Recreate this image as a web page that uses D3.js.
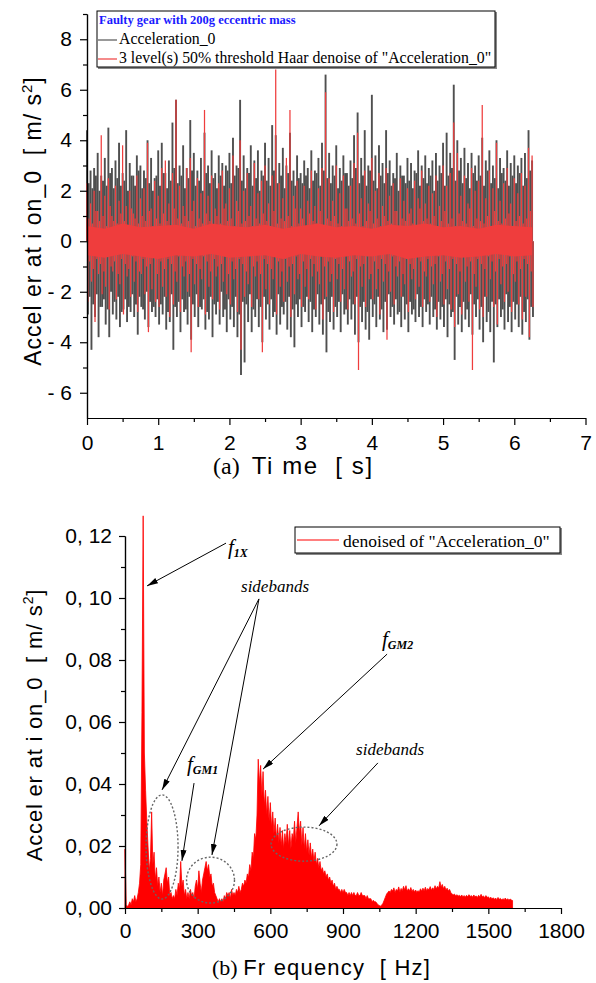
<!DOCTYPE html>
<html>
<head>
<meta charset="utf-8"/>
<title>Faulty gear: time signal and spectrum</title>
<script src="https://d3js.org/d3.v7.min.js"></script>
<style>
  body { margin: 0; background: #fff; }
  svg text { font-family: "Liberation Sans", Arial, sans-serif; fill: #000; }
  .serif { font-family: "Liberation Serif", "Times New Roman", serif !important; }
  .axis path, .axis line { stroke: #000; stroke-width: 1.2; }
  .axis text { font-size: 21px; }
  .ellipse { fill: none; stroke: #666; stroke-width: 1.4; stroke-dasharray: 2 2; }
  .arrow { stroke: #000; stroke-width: 1; fill: none; }
</style>
</head>
<body>
<div id="chart"></div>
<script>
// ---- panel (a): time signal, max / min in each 0.025 s slot ----
var timeStep = 0.025;
var greyHi = [4.4, 2.3, 2.8, 2.1, 2.9, 2.6, 3.5, 2.0, 2.6, 2.4, 3.3, 2.2, 4.5, 2.7, 2.9, 2.1, 3.2, 2.5, 3.9, 2.2,
              2.7, 2.4, 4.4, 2.0, 3.1, 2.6, 2.6, 2.2, 3.4, 2.8, 3.0, 2.1, 2.8, 2.5, 4.0, 2.3, 3.3, 2.0, 2.5, 2.6,
              3.6, 2.2, 3.9, 2.7, 2.7, 2.1, 3.2, 2.4, 4.7, 2.9, 5.6, 2.3, 3.0, 2.6, 3.8, 2.1, 2.9, 2.5, 4.8, 2.8,
              3.5, 2.2, 2.8, 2.4, 3.3, 2.0, 4.3, 2.7, 3.0, 2.3, 3.6, 2.5, 2.7, 2.1, 3.4, 2.6, 3.1, 2.2, 3.0, 2.8,
              3.5, 2.3, 4.1, 2.6, 3.0, 2.9, 5.6, 2.4, 3.4, 2.1, 2.9, 2.7, 3.8, 2.2, 3.2, 2.5, 3.6, 2.0, 2.8, 2.6,
              3.9, 2.4, 3.3, 2.2, 4.6, 2.8, 4.2, 2.3, 3.1, 2.6, 3.7, 2.1, 3.0, 2.7, 4.3, 2.4, 2.8, 2.2, 3.4, 2.5,
              2.7, 2.3, 3.2, 2.6, 2.9, 2.1, 3.6, 2.4, 2.8, 2.7, 3.3, 2.2, 3.9, 2.8, 6.6, 2.5, 3.5, 2.3, 3.0, 2.6,
              3.8, 2.1, 2.9, 2.4, 3.4, 2.7, 2.7, 2.2, 3.2, 2.5, 4.2, 2.9, 5.1, 2.3, 3.3, 2.6, 4.4, 2.2, 3.0, 2.8,
              5.8, 2.4, 3.4, 2.1, 3.8, 2.6, 3.1, 2.3, 4.4, 2.7, 3.2, 2.2, 2.7, 2.5, 3.5, 2.0, 3.0, 2.6, 2.6, 2.3,
              3.3, 2.4, 3.1, 2.1, 2.8, 2.7, 3.6, 2.2, 3.0, 2.5, 3.4, 2.3, 2.9, 2.6, 3.2, 2.0, 3.5, 2.4, 3.0, 2.7,
              3.9, 2.2, 4.3, 2.6, 3.5, 2.9, 6.2, 2.4, 4.0, 2.8, 3.3, 2.3, 3.7, 2.5, 3.1, 2.1, 3.5, 2.7, 3.0, 2.4,
              3.4, 2.6, 4.1, 2.2, 3.2, 2.8, 3.6, 2.3, 3.0, 2.5, 4.0, 2.1, 3.3, 2.7, 2.9, 2.4, 3.6, 2.2, 3.1, 2.6,
              3.4, 2.3, 3.0, 2.7, 3.3, 2.2, 3.5, 2.5, 4.4, 2.8, 3.2];
var greyLo = [-2.9, -2.2, -4.3, -2.5, -3.0, -2.1, -3.8, -2.6, -2.6, -2.3, -3.3, -2.7, -3.8, -2.0, -2.9, -2.4, -3.1, -2.2, -3.4, -2.8,
              -2.7, -2.3, -3.2, -2.6, -2.8, -2.1, -3.0, -2.5, -3.7, -2.2, -2.6, -2.7, -3.1, -2.0, -3.4, -2.4, -2.8, -2.6, -3.0, -2.3,
              -3.3, -2.5, -2.9, -2.2, -3.5, -2.8, -3.2, -2.1, -4.3, -2.6, -3.0, -2.4, -3.6, -2.3, -2.8, -2.7, -3.3, -2.2, -3.9, -2.5,
              -3.0, -2.1, -3.4, -2.6, -2.7, -2.3, -3.5, -2.8, -3.1, -2.2, -3.8, -2.5, -2.9, -2.4, -3.3, -2.0, -3.0, -2.7, -3.6, -2.3,
              -3.1, -2.6, -3.4, -2.2, -3.8, -2.9, -5.3, -2.4, -4.8, -2.5, -3.2, -2.1, -3.6, -2.7, -3.0, -2.3, -3.4, -2.6, -4.0, -2.2,
              -3.1, -2.5, -3.5, -2.3, -3.0, -2.8, -3.7, -2.1, -3.3, -2.6, -2.9, -2.4, -3.5, -2.2, -3.8, -2.7, -4.2, -2.5, -3.0, -2.3,
              -3.4, -2.6, -2.8, -2.2, -3.2, -2.4, -3.6, -2.7, -3.0, -2.1, -3.3, -2.5, -3.7, -2.3, -4.4, -2.8, -3.2, -2.2, -3.5, -2.6,
              -3.0, -2.4, -3.6, -2.1, -2.9, -2.7, -3.3, -2.3, -3.1, -2.5, -3.7, -2.2, -4.0, -2.6, -3.2, -2.4, -3.5, -2.8, -3.9, -2.3,
              -3.0, -2.5, -3.4, -2.2, -3.1, -2.7, -3.6, -2.4, -3.5, -2.1, -3.0, -2.6, -3.3, -2.3, -2.9, -2.8, -3.4, -2.2, -3.1, -2.5,
              -3.6, -2.4, -2.9, -2.7, -3.2, -2.1, -3.0, -2.6, -3.4, -2.3, -2.8, -2.5, -3.3, -2.2, -3.0, -2.7, -3.5, -2.4, -3.1, -2.6,
              -3.4, -2.3, -3.8, -2.5, -3.0, -2.8, -4.7, -2.2, -3.3, -2.6, -3.6, -2.4, -3.1, -2.7, -3.4, -2.1, -3.7, -2.5, -3.0, -2.3,
              -3.5, -2.6, -4.0, -2.2, -3.2, -2.8, -3.6, -2.4, -4.8, -2.5, -3.4, -2.3, -3.0, -2.7, -3.5, -2.1, -3.2, -2.6, -3.6, -2.4,
              -3.1, -2.5, -3.4, -2.2, -3.7, -2.8, -3.2, -2.3, -3.9, -2.6, -3.0];
var redHi = [2.3, 0.9, 1.5, 0.7, 2.0, 1.2, 1.2, 0.8, 4.2, 1.0, 1.8, 0.6, 2.5, 1.4, 1.0, 0.8, 2.2, 0.7, 1.6, 1.1,
             3.8, 0.8, 1.4, 0.6, 2.0, 1.3, 1.1, 0.9, 2.6, 0.7, 1.7, 1.0, 2.1, 0.8, 3.9, 1.2, 1.3, 0.6, 2.4, 0.9,
             1.8, 0.7, 2.9, 1.1, 3.2, 0.8, 1.5, 0.6, 2.7, 1.3, 5.6, 0.9, 2.2, 0.7, 1.4, 1.0, 2.9, 0.8, 3.3, 1.2,
             1.6, 0.6, 2.5, 0.9, 1.9, 0.7, 5.2, 1.1, 1.8, 0.8, 2.6, 0.6, 1.3, 1.0, 2.3, 0.7, 2.8, 1.3, 1.5, 0.8,
             2.1, 0.9, 3.4, 0.6, 1.6, 1.2, 4.0, 0.7, 2.0, 0.8, 2.7, 1.0, 1.4, 0.6, 3.1, 0.9, 1.9, 0.7, 2.4, 1.1,
             3.0, 0.8, 1.5, 0.6, 2.6, 1.2, 6.8, 0.7, 2.3, 0.9, 1.7, 0.8, 3.3, 1.0, 5.2, 0.6, 1.8, 1.3, 2.4, 0.7,
             1.3, 0.9, 2.2, 0.6, 1.6, 1.1, 2.8, 0.8, 1.4, 0.7, 2.1, 1.2, 2.9, 0.6, 5.9, 0.9, 2.5, 0.8, 1.6, 1.0,
             3.0, 0.7, 1.9, 0.6, 2.6, 1.3, 1.3, 0.8, 2.2, 0.9, 3.1, 0.7, 4.3, 1.1, 1.7, 0.6, 2.8, 0.8, 1.5, 1.2,
             3.3, 0.7, 2.0, 0.9, 2.7, 0.6, 1.4, 1.0, 2.9, 0.8, 1.8, 0.7, 2.3, 1.2, 1.2, 0.6, 2.5, 0.9, 1.6, 0.8,
             2.1, 1.1, 1.3, 0.7, 2.4, 0.6, 1.7, 1.3, 2.8, 0.8, 1.5, 0.9, 2.2, 0.7, 1.9, 1.0, 2.6, 0.6, 1.4, 0.8,
             3.0, 1.2, 2.2, 0.7, 2.7, 0.9, 4.7, 0.6, 3.5, 1.1, 1.8, 0.8, 2.6, 0.7, 1.5, 1.3, 2.9, 0.6, 2.0, 0.9,
             2.4, 0.8, 5.4, 0.7, 1.7, 1.0, 2.8, 0.6, 2.1, 1.2, 3.9, 0.8, 1.6, 0.7, 2.3, 0.9, 2.9, 1.1, 1.5, 0.6,
             2.5, 0.8, 1.9, 1.0, 2.7, 0.7, 2.2, 0.9, 3.7, 1.2, 3.4];
var redLo = [-2.4, -0.8, -1.6, -1.1, -3.2, -0.7, -1.3, -0.9, -2.1, -1.2, -1.8, -0.6, -2.7, -1.0, -1.2, -0.8, -2.3, -1.3, -1.7, -0.7,
             -2.9, -0.9, -1.4, -1.1, -2.2, -0.6, -1.6, -0.8, -2.8, -1.2, -1.3, -0.7, -2.1, -1.0, -3.6, -0.9, -1.9, -0.6, -2.4, -1.3,
             -2.6, -0.8, -1.8, -1.1, -2.2, -0.7, -3.0, -0.9, -2.5, -1.2, -1.6, -0.6, -2.8, -1.0, -1.4, -0.8, -2.0, -1.3, -4.4, -0.7,
             -1.7, -0.9, -2.6, -1.1, -1.5, -0.6, -2.9, -0.8, -1.8, -1.2, -2.3, -0.7, -1.4, -1.0, -2.7, -0.9, -1.6, -0.6, -2.1, -1.3,
             -2.5, -0.8, -1.5, -1.1, -2.8, -0.7, -4.3, -0.9, -2.2, -1.2, -1.7, -0.6, -2.6, -1.0, -1.4, -0.8, -2.3, -1.3, -4.4, -0.7,
             -1.9, -0.9, -2.5, -1.1, -1.5, -0.6, -2.9, -0.8, -1.8, -1.2, -2.4, -0.7, -1.6, -1.0, -3.0, -0.9, -2.1, -0.6, -1.5, -1.3,
             -2.6, -0.8, -1.8, -1.1, -2.3, -0.7, -1.4, -0.9, -2.7, -1.2, -1.7, -0.6, -3.1, -1.0, -2.2, -0.8, -1.6, -1.3, -2.8, -0.7,
             -1.5, -0.9, -2.4, -1.1, -1.9, -0.6, -2.7, -0.8, -1.4, -1.2, -2.5, -0.7, -5.1, -1.0, -1.8, -0.9, -2.6, -0.6, -1.5, -1.3,
             -2.3, -0.8, -1.9, -1.1, -2.9, -0.7, -1.6, -0.9, -3.9, -1.2, -2.0, -0.6, -2.5, -1.0, -1.4, -0.8, -2.2, -1.3, -1.7, -0.7,
             -2.8, -0.9, -1.5, -1.1, -2.3, -0.6, -1.8, -0.8, -2.6, -1.2, -1.4, -0.7, -2.4, -1.0, -1.7, -0.9, -3.0, -0.6, -1.6, -1.3,
             -2.5, -0.8, -1.9, -1.1, -2.7, -0.7, -3.4, -0.9, -2.1, -1.2, -2.9, -0.6, -1.6, -1.0, -2.4, -0.8, -5.1, -1.3, -1.8, -0.7,
             -2.7, -0.9, -3.0, -1.1, -2.2, -0.6, -1.5, -0.8, -2.6, -1.2, -3.3, -0.7, -1.7, -1.0, -2.4, -0.9, -2.0, -0.6, -2.8, -1.3,
             -1.6, -0.8, -2.5, -1.1, -3.1, -0.7, -2.2, -0.9, -3.8, -1.2, -2.6];
// dense middle band of the denoised trace, every 0.25 s
var coreStep = 0.25;
var redCoreHi = [0.6, 0.5, 0.7, 0.55, 0.6, 0.65, 0.5, 0.7, 0.6, 0.55, 0.65, 0.5, 0.6,
                 0.7, 0.55, 0.6, 0.5, 0.65, 0.6, 0.7, 0.55, 0.6, 0.5, 0.65, 0.6, 0.55];
var redCoreLo = [-0.55, -0.65, -0.5, -0.6, -0.7, -0.55, -0.6, -0.5, -0.65, -0.6, -0.55, -0.7, -0.5,
                 -0.6, -0.65, -0.55, -0.6, -0.5, -0.7, -0.6, -0.55, -0.65, -0.6, -0.5, -0.6, -0.55];
var timeTicks = [0, 1, 2, 3, 4, 5, 6, 7];
var accTicks = [-6, -4, -2, 0, 2, 4, 6, 8];

// ---- panel (b): spectrum, 5 Hz bins, amplitude in 1e-3 m/s2 ----
var specStep = 5;
var specAmp = [19, 1, 0.5, 1, 2, 1, 3, 2, 4, 2,
               3, 5, 8, 14, 63, 126.5, 50, 38, 28, 20,
               12, 16, 31, 14, 18, 9, 13, 7, 10, 5,
               8, 4, 9, 11, 13, 8, 10, 4, 5, 3,
               4, 3, 6, 4, 8, 6, 15, 7, 9, 4,
               6, 3, 5, 3, 6, 4, 5, 3, 7, 9,
               6, 12, 8, 5, 9, 11, 13, 15, 12, 14,
               10, 11, 7, 8, 5, 4, 3, 2, 3, 2,
               3, 2, 4, 3, 5, 4, 5, 3, 6, 4,
               5, 4, 6, 5, 7, 5, 6, 8, 7, 9,
               8, 11, 10, 14, 12, 18, 16, 24, 22, 30,
               48, 40, 46, 36, 44, 33, 38, 30, 36, 28,
               34, 26, 31, 24, 29, 22, 27, 21, 26, 20,
               25, 19, 24, 21, 27, 20, 25, 19, 24, 22,
               28, 21, 26, 31, 24, 28, 20, 26, 19, 24,
               18, 22, 17, 21, 16, 19, 15, 18, 14, 16,
               13, 15, 12, 13, 11, 12, 10, 11, 9, 10,
               8, 9, 7, 8, 6, 7, 6, 6, 5, 6,
               5, 6, 5, 5, 4, 5, 4, 5, 4, 5,
               4, 4, 5, 4, 4, 5, 4, 4, 4, 3,
               4, 3, 3, 3, 2, 2.5, 2, 2, 1.5, 1,
               0.8, 0.6, 1, 1.5, 2.5, 3.5, 4.5, 5, 5.5, 5,
               6, 5.5, 6.5, 5, 6, 5.5, 6.8, 5.2, 6.3, 5.6,
               7, 5.8, 7.2, 5.4, 6.2, 5.5, 6.6, 5.3, 6, 5.2,
               5.8, 5, 5.6, 5.2, 6.2, 5.4, 6.4, 5.5, 6.7, 5.6,
               6.3, 5.8, 6.9, 5.7, 6.5, 6, 7.2, 6.1, 7, 6.4,
               8.5, 6.8, 7.6, 6.2, 7, 5.8, 6.4, 5.5, 6, 5,
               4.6, 4.2, 4.5, 3.9, 4.3, 3.8, 4.1, 3.7, 4.2, 3.6,
               4, 3.5, 4.1, 3.6, 4.3, 3.7, 4, 3.5, 4.2, 3.6,
               3.9, 3.4, 4.1, 3.5, 4.4, 3.6, 3.9, 3.3, 4, 3.4,
               3.6, 3.1, 3.5, 2.9, 3.3, 2.8, 3.2, 2.7, 3.4, 2.8,
               3.1, 2.6, 3.0, 2.7, 3.2, 2.6, 3.0, 2.5, 2.9, 2.6,
               2.4];
var freqTicks = [0, 300, 600, 900, 1200, 1500, 1800];
var ampTicks = [0, 0.02, 0.04, 0.06, 0.08, 0.10, 0.12];

// annotations of panel (b), in data units [Hz, m/s2]
var notes = [
  {f: "f", sub: "1X", at: [425, 0.1142], from: [417, 0.1177], to: [[91, 0.1039]]},
  {text: "sidebands", at: [479, 0.1019], from: [553, 0.0997], to: [[153, 0.0381], [359, 0.0171]]},
  {f: "f", sub: "GM1", at: [256, 0.0442], from: [285, 0.0403], to: [[235, 0.0152]]},
  {f: "f", sub: "GM2", at: [1061, 0.0845], from: [1082, 0.0819], to: [[570, 0.0448]]},
  {text: "sidebands", at: [954, 0.0494], from: [1044, 0.0468], to: [[801, 0.0265]]}
];
var rings = [
  {c: [153, 0.0197], rf: 66, ra: 0.0168},
  {c: [353, 0.0090], rf: 99, ra: 0.0074},
  {c: [739, 0.0206], rf: 136, ra: 0.0055}
];

var width = 596, height = 983;
var svg = d3.select("#chart").append("svg")
    .attr("width", width)
    .attr("height", height);

svg.append("defs").append("marker")
    .attr("id", "head")
    .attr("viewBox", "0 0 11 6")
    .attr("refX", 11).attr("refY", 3)
    .attr("markerWidth", 11).attr("markerHeight", 6)
    .attr("markerUnits", "userSpaceOnUse")
    .attr("orient", "auto")
  .append("path")
    .attr("d", "M0,0L11,3L0,6Z")
    .attr("fill", "#000");

// ================= panel (a) =================
var x1 = d3.scaleLinear().domain([0, 7]).range([87, 585.5]);
var y1 = d3.scaleLinear().domain([-7, 9]).range([418, 14]);

var coreArea = d3.area()
    .x(function(d) { return x1(d[0]); })
    .y0(function(d) { return y1(d[2]); })
    .y1(function(d) { return y1(d[1]); });

// up stems on the slot times, down stems half a slot later
function stems(hi, lo) {
  var s = [];
  hi.forEach(function(v, i) {
    s.push([i * timeStep, v]);
    s.push([i * timeStep + timeStep / 2, lo[i]]);
  });
  return s;
}
function drawStems(data, color, w) {
  svg.append("g").selectAll("line").data(data).enter().append("line")
      .attr("x1", function(d) { return x1(d[0]); })
      .attr("x2", function(d) { return x1(d[0]); })
      .attr("y1", y1(0))
      .attr("y2", function(d) { return y1(d[1]); })
      .attr("stroke", color)
      .attr("stroke-width", w);
}

drawStems(stems(greyHi, greyLo), "#4f4f4f", 1.9);
drawStems(stems(redHi, redLo), "#ef3d3d", 1.25);
svg.append("path")
    .attr("d", coreArea(redCoreHi.map(function(v, i) { return [i * coreStep, v, redCoreLo[i]]; })))
    .attr("fill", "#ef3d3d");

// minor ticks first, then majors
svg.append("g").attr("class", "axis")
    .attr("transform", "translate(87,0)")
    .call(d3.axisLeft(y1).tickValues([-5, -3, -1, 1, 3, 5, 7, 9]).tickSize(4).tickSizeOuter(0).tickFormat(""));
svg.append("g").attr("class", "axis")
    .attr("transform", "translate(87,0)")
    .call(d3.axisLeft(y1).tickValues(accTicks).tickSize(7).tickSizeOuter(0).tickPadding(8)
      .tickFormat(function(d) { return d < 0 ? "- " + Math.abs(d) : d; }));
svg.append("g").attr("class", "axis")
    .attr("transform", "translate(0,418)")
    .call(d3.axisBottom(x1).tickValues([0.5, 1.5, 2.5, 3.5, 4.5, 5.5, 6.5]).tickSize(4).tickSizeOuter(0).tickFormat(""));
svg.append("g").attr("class", "axis")
    .attr("transform", "translate(0,418)")
    .call(d3.axisBottom(x1).tickValues(timeTicks).tickSize(7).tickSizeOuter(0).tickPadding(10)
      .tickFormat(d3.format("d")));

var yt1 = svg.append("text")
    .attr("transform", "translate(41,221) rotate(-90)")
    .attr("text-anchor", "middle")
    .style("font-size", "23px")
    .style("letter-spacing", "1px")
    .style("white-space", "pre");
yt1.append("tspan").text("Accel er at i on_0  [ m/ s");
yt1.append("tspan").attr("dy", -9).style("font-size", "15px").text("2");
yt1.append("tspan").attr("dy", 9).text("]");

var xt1 = svg.append("text")
    .attr("x", 213).attr("y", 474)
    .style("font-size", "24px")
    .style("white-space", "pre");
xt1.append("tspan").attr("class", "serif").text("(a)  ");
xt1.append("tspan").style("letter-spacing", "1.6px").text("Ti me  [ s]");

// legend (a)
var lg1 = svg.append("g");
lg1.append("rect").attr("x", 98).attr("y", 12).attr("width", 399).attr("height", 57).attr("fill", "#888");
lg1.append("rect").attr("x", 97).attr("y", 11).attr("width", 398).attr("height", 56)
    .attr("fill", "#fff").attr("stroke", "#000").attr("stroke-width", 1);
lg1.append("text").attr("class", "serif").attr("x", 99).attr("y", 24)
    .style("font-size", "12.5px").style("font-weight", "bold").style("fill", "#1a1aff")
    .text("Faulty gear with 200g eccentric mass");
lg1.append("line").attr("x1", 98).attr("x2", 117).attr("y1", 40).attr("y2", 40)
    .attr("stroke", "#555").attr("stroke-width", 1.2);
lg1.append("text").attr("class", "serif").attr("x", 119).attr("y", 44)
    .style("font-size", "15.8px").text("Acceleration_0");
lg1.append("line").attr("x1", 98).attr("x2", 117).attr("y1", 59).attr("y2", 59)
    .attr("stroke", "#ef3d3d").attr("stroke-width", 1.2);
lg1.append("text").attr("class", "serif").attr("x", 119).attr("y", 63)
    .style("font-size", "15.8px").text("3 level(s) 50% threshold Haar denoise of \"Acceleration_0\"");

// ================= panel (b) =================
var x2 = d3.scaleLinear().domain([0, 1800]).range([125, 561]);
var y2 = d3.scaleLinear().domain([0, 0.12]).range([908, 536]);

var specArea = d3.area()
    .x(function(d, i) { return x2(i * specStep); })
    .y0(y2(0))
    .y1(function(d) { return y2(d / 1000); });
svg.append("path")
    .attr("d", specArea(specAmp))
    .attr("fill", "#ff0000")
    .attr("stroke", "#ff0000")
    .attr("stroke-width", 0.8);

svg.append("g").attr("class", "axis")
    .attr("transform", "translate(125,0)")
    .call(d3.axisLeft(y2).tickValues([0.01, 0.03, 0.05, 0.07, 0.09, 0.11]).tickSize(4).tickSizeOuter(0).tickFormat(""));
svg.append("g").attr("class", "axis")
    .attr("transform", "translate(125,0)")
    .call(d3.axisLeft(y2).tickValues(ampTicks).tickSize(6).tickSizeOuter(0).tickPadding(7)
      .tickFormat(function(d) { return d3.format(".2f")(d).replace(".", ", "); }));
svg.append("g").attr("class", "axis")
    .attr("transform", "translate(0,908)")
    .call(d3.axisBottom(x2).tickValues([150, 450, 750, 1050, 1350, 1650]).tickSize(4).tickSizeOuter(0).tickFormat(""));
svg.append("g").attr("class", "axis")
    .attr("transform", "translate(0,908)")
    .call(d3.axisBottom(x2).tickValues(freqTicks).tickSize(6).tickSizeOuter(0).tickPadding(9)
      .tickFormat(d3.format("d")));

var yt2 = svg.append("text")
    .attr("transform", "translate(42,725) rotate(-90)")
    .attr("text-anchor", "middle")
    .style("font-size", "22px")
    .style("letter-spacing", "0.8px")
    .style("white-space", "pre");
yt2.append("tspan").text("Accel er at i on_0  [ m/ s");
yt2.append("tspan").attr("dy", -9).style("font-size", "14px").text("2");
yt2.append("tspan").attr("dy", 9).text("]");

var xt2 = svg.append("text")
    .attr("x", 212).attr("y", 975)
    .style("font-size", "22px")
    .style("white-space", "pre");
xt2.append("tspan").attr("class", "serif").text("(b) ");
xt2.append("tspan").style("letter-spacing", "1.2px").text("Fr equency  [ Hz]");

// legend (b)
var lg2 = svg.append("g");
lg2.append("rect").attr("x", 296).attr("y", 528).attr("width", 266).attr("height", 27).attr("fill", "#888");
lg2.append("rect").attr("x", 295).attr("y", 527).attr("width", 265).attr("height", 26)
    .attr("fill", "#fff").attr("stroke", "#000").attr("stroke-width", 1);
lg2.append("line").attr("x1", 297).attr("x2", 339).attr("y1", 540).attr("y2", 540)
    .attr("stroke", "#ff0000").attr("stroke-width", 1.2);
lg2.append("text").attr("class", "serif").attr("x", 343).attr("y", 547)
    .style("font-size", "17.5px").text("denoised of \"Acceleration_0\"");

// dotted rings and arrows
svg.selectAll(".ellipse").data(rings).enter().append("ellipse")
    .attr("class", "ellipse")
    .attr("cx", function(d) { return x2(d.c[0]); })
    .attr("cy", function(d) { return y2(d.c[1]); })
    .attr("rx", function(d) { return x2(d.rf) - x2(0); })
    .attr("ry", function(d) { return y2(0) - y2(d.ra); });

notes.forEach(function(n) {
  n.to.forEach(function(t) {
    svg.append("line").attr("class", "arrow")
        .attr("x1", x2(n.from[0])).attr("y1", y2(n.from[1]))
        .attr("x2", x2(t[0])).attr("y2", y2(t[1]))
        .attr("marker-end", "url(#head)");
  });
  var tx = svg.append("text").attr("class", "serif")
      .attr("x", x2(n.at[0])).attr("y", y2(n.at[1]))
      .style("font-style", "italic");
  if (n.text) {
    tx.style("font-size", "17px").text(n.text);
  } else {
    tx.append("tspan").style("font-size", "21px").text(n.f);
    tx.append("tspan").attr("dy", 3).style("font-size", "12px").style("font-weight", "bold").text(n.sub);
  }
});
</script>
</body>
</html>
